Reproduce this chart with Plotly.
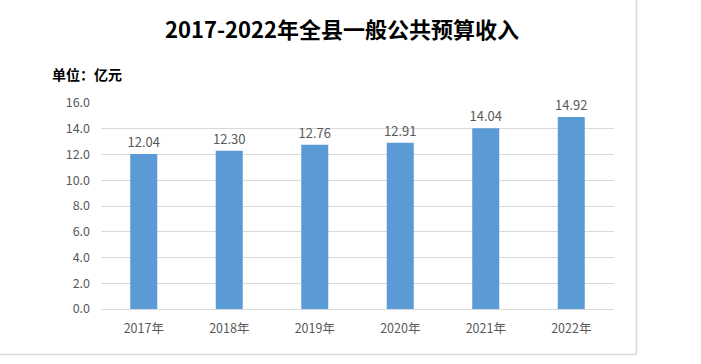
import plotly.graph_objects as go

years = ["2017年", "2018年", "2019年", "2020年", "2021年", "2022年"]
revenue = [12.04, 12.30, 12.76, 12.91, 14.04, 14.92]
y_ticks = [0, 2, 4, 6, 8, 10, 12, 14, 16]

W, H = 701, 364
L, R, T, B = 101, 87, 103, 55
pw, ph = W - L - R, H - T - B

def px_x(px):
    return (px - L) / pw

def px_y(py):
    return (H - B - py) / ph

CJK = "Noto Sans CJK SC"
GRAY = "#595959"

fig = go.Figure(go.Bar(
    x=years, y=revenue,
    marker=dict(color="#5b9bd5", line=dict(width=0)),
    width=0.316,
    text=[f"{v:.2f}" for v in revenue],
    textposition="outside",
    constraintext="none",
    textfont=dict(family=CJK, size=13, color=GRAY),
    cliponaxis=False,
))

fig.update_layout(
    width=W, height=H,
    margin=dict(l=L, r=R, t=T, b=B),
    paper_bgcolor="white", plot_bgcolor="white",
    showlegend=False,
    title=dict(
        text="<b>2017-2022年全县一般公共预算收入</b>",
        font=dict(family=CJK, size=22, color="#000000"),
        x=342 / W, xanchor="center", xref="container",
        y=1 - 30 / H, yanchor="middle", yref="container",
    ),
    xaxis=dict(
        showgrid=False, showline=True, linecolor="#d9d9d9", linewidth=1,
        ticks="", tickfont=dict(family=CJK, size=12.5, color=GRAY),
        ticklabelstandoff=8,
    ),
    yaxis=dict(
        range=[0, 16], tickvals=y_ticks,
        ticktext=[f"{v:.1f}" for v in y_ticks],
        showgrid=True, gridcolor="#d9d9d9", gridwidth=1,
        zeroline=False, showline=False, ticks="",
        tickfont=dict(family=CJK, size=12.5, color=GRAY),
        ticklabelstandoff=10,
    ),
    annotations=[dict(
        text="<b>单位：亿元</b>", xref="paper", yref="paper",
        x=px_x(50), y=px_y(74), xanchor="left", yanchor="middle",
        showarrow=False, font=dict(family=CJK, size=14, color="#000000"),
    )],
    shapes=[
        dict(type="line", xref="paper", yref="paper",
             x0=px_x(636.5), x1=px_x(636.5), y0=px_y(-5), y1=px_y(354.5),
             line=dict(color="#d9d9d9", width=1.5)),
        dict(type="line", xref="paper", yref="paper",
             x0=px_x(-5), x1=px_x(636.5), y0=px_y(354.5), y1=px_y(354.5),
             line=dict(color="#d9d9d9", width=1.5)),
    ],
)

fig.write_html("out.html")
